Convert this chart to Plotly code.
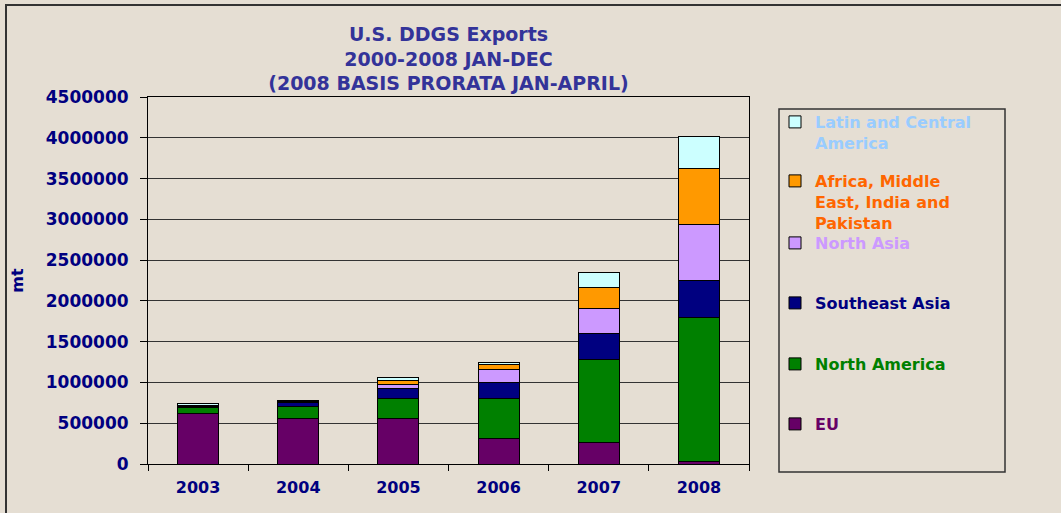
import plotly.graph_objects as go

years = ["2003", "2004", "2005", "2006", "2007", "2008"]
eu = [615000, 562000, 562000, 307000, 262000, 28000]
north_america = [75000, 147000, 237000, 496000, 1025000, 1767000]
southeast_asia = [20000, 50000, 123000, 197000, 311000, 455000]
north_asia = [5000, 5000, 49000, 164000, 311000, 684000]
africa_me = [3000, 3000, 58000, 53000, 254000, 684000]
latin_america = [20000, 13000, 37000, 33000, 185000, 394000]

series_names = ["EU", "North America", "Southeast Asia", "North Asia",
                "Africa, Middle<br>East, India and<br>Pakistan", "Latin and Central<br>America"]
series_values = [eu, north_america, southeast_asia, north_asia, africa_me, latin_america]
bar_colors = ["#660066", "#008000", "#000080", "#CC99FF", "#FF9900", "#CCFFFF"]
text_colors = ["#660066", "#008000", "#000080", "#CC99FF", "#FF6600", "#99CCFF"]
legend_rows_px = [424, 364, 303, 243, 181, 122]  # first-line centre (px)

FONT = "DejaVu Sans"
BG = "#E5DED3"
NAVY = "#000080"

# plot area in pixels
L, R, T, B = 148, 749, 97, 464
W, H = 1061, 513


def px_x(px):
    return (px - L) / (R - L)


def px_y(py):
    return (B - py) / (B - T)


fig = go.Figure()
layout_legends = {}
for i, (name, vals, c, tc, row) in enumerate(zip(series_names, series_values, bar_colors,
                                                  text_colors, legend_rows_px)):
    key = "legend" if i == 0 else f"legend{i + 1}"
    fig.add_trace(go.Bar(
        x=years, y=vals, name=name,
        marker=dict(color=c, line=dict(color="#000000", width=1)),
        legend=key,
    ))
    layout_legends[key] = dict(
        x=px_x(775), xanchor="left",
        y=px_y(row - 17), yanchor="top",
        bgcolor="rgba(0,0,0,0)", borderwidth=0,
        valign="top", itemwidth=30,
        font=dict(family=FONT, size=16, color=tc, weight="bold"),
    )

fig.update_layout(
    width=W, height=H,
    barmode="stack", bargap=0.59,
    paper_bgcolor=BG, plot_bgcolor=BG,
    margin=dict(l=L, r=W - R, t=T, b=H - B, autoexpand=False),
    showlegend=True,
    title=dict(
        text="U.S. DDGS Exports<br>2000-2008 JAN-DEC<br>(2008 BASIS PRORATA JAN-APRIL)",
        x=0.5, xref="paper", xanchor="center",
        y=1 - 41 / H, yref="container", yanchor="top",
        font=dict(family=FONT, size=19, color="#333399", weight="bold"),
    ),
    xaxis=dict(
        type="category",
        showline=True, linecolor="#000000", linewidth=1, mirror=True,
        ticks="outside", tickson="boundaries", ticklen=6, tickcolor="#000000",
        tickfont=dict(family=FONT, size=16, color=NAVY, weight="bold"),
        ticklabelstandoff=9,
        showgrid=False,
    ),
    yaxis=dict(
        range=[0, 4500000], dtick=500000, tickformat="d",
        showline=True, linecolor="#000000", linewidth=1, mirror=True,
        ticks="outside", ticklen=7, tickcolor="#000000",
        showgrid=True, gridcolor="#333333", gridwidth=1,
        zeroline=False,
        tickfont=dict(family=FONT, size=17, color=NAVY, weight="bold"),
        ticklabelstandoff=8,
        title=dict(text="mt", standoff=18,
                   font=dict(family=FONT, size=16, color=NAVY, weight="bold")),
    ),
    shapes=[
        # outer chart frame
        dict(type="rect", xref="paper", yref="paper",
             x0=px_x(6), x1=px_x(1100), y0=px_y(5), y1=px_y(560),
             line=dict(color="#333333", width=2), fillcolor="rgba(0,0,0,0)", layer="above"),
        # legend frame
        dict(type="rect", xref="paper", yref="paper",
             x0=px_x(779), x1=px_x(1005), y0=px_y(109), y1=px_y(472),
             line=dict(color="#333333", width=1.5), fillcolor="rgba(0,0,0,0)", layer="below"),
    ],
    **layout_legends,
)

fig.write_html(
    "out.html",
    config={"displayModeBar": False},
    post_script="document.body.style.margin='0';document.body.style.padding='0';"
                "document.body.style.background='" + BG + "';",
)
